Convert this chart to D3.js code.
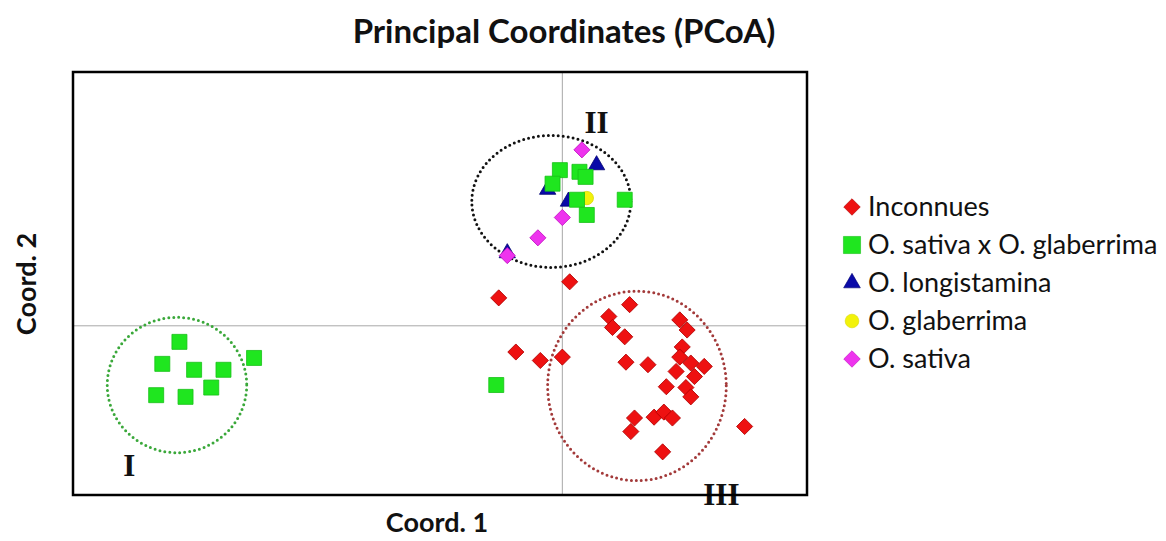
<!DOCTYPE html>
<html><head><meta charset="utf-8">
<script src="https://cdn.jsdelivr.net/npm/d3@7"></script>
<style>html,body{margin:0;padding:0;background:#fff;overflow:hidden;}svg{display:block;}</style>
</head><body>
<svg id="chart" width="1166" height="541"></svg>
<script>
// ---- Data (PCoA coordinates) ----
const seriesNames = ["Inconnues", "O. sativa x O. glaberrima", "O. longistamina", "O. glaberrima", "O. sativa"];
const inconnuesX = [0.006,-0.052,0.055,0.038,0.041,0.051,0.096,0.102,0.098,0.096,0.093,0.105,0.116,0.108,0.085,0.101,0.105,-0.038,-0.018,0.000,0.052,0.070,0.059,0.056,0.075,0.083,0.090,0.082,0.149];
const inconnuesY = [0.052,0.033,0.025,0.011,-0.002,-0.013,0.007,-0.005,-0.025,-0.037,-0.054,-0.044,-0.048,-0.060,-0.072,-0.073,-0.084,-0.031,-0.041,-0.037,-0.043,-0.046,-0.109,-0.125,-0.108,-0.102,-0.109,-0.149,-0.119];
const hybridX = [-0.313,-0.327,-0.301,-0.277,-0.252,-0.332,-0.308,-0.287,-0.054,-0.002,-0.008,0.014,0.019,0.012,0.020,0.051];
const hybridY = [-0.019,-0.045,-0.052,-0.052,-0.038,-0.082,-0.084,-0.073,-0.070,0.184,0.168,0.182,0.176,0.149,0.131,0.149];
const longistaminaX = [0.028,-0.012,0.005,-0.045];
const longistaminaY = [0.190,0.161,0.147,0.086];
const glaberrimaX = [0.020];
const glaberrimaY = [0.151];
const sativaX = [0.016,0.000,-0.020,-0.045];
const sativaY = [0.208,0.128,0.104,0.083];
// groups (ellipses) in data coordinates
const groupLabels = ["I", "II", "III"];
const groupCX = [-0.315, -0.009, 0.061];
const groupCY = [-0.070, 0.147, -0.071];
const groupRX = [0.057, 0.065, 0.073];
const groupRY = [0.080, 0.078, 0.112];
const groupLabelX = [-0.354, 0.028, 0.130];
const groupLabelY = [-0.177, 0.228, -0.212];
const titleText = "Principal Coordinates (PCoA)";
const xTitle = "Coord. 1";
const yTitle = "Coord. 2";

// ---- Chart ----
const svg = d3.select("#chart");
const pL = 73, pR = 807, pT = 72, pB = 495;
const x = d3.scaleLinear().domain([-0.4, 0.2]).range([pL, pR]);
const y = d3.scaleLinear().domain([-0.2, 0.3]).range([pB, pT]);

const colors = ["#ee1111", "#1fe61f", "#0a0aa8", "#f2f20a", "#ee33ee"];
const strokes = ["#b00000", "#18c018", "#000070", "#d8d800", "#c010c0"];
const shapes = [
  {type: d3.symbolSquare, size: 130, rot: 45},
  {type: d3.symbolSquare, size: 225, rot: 0},
  {type: d3.symbolTriangle, size: 115, rot: 0},
  {type: d3.symbolCircle, size: 140, rot: 0},
  {type: d3.symbolSquare, size: 130, rot: 45}
];

svg.append("text").attr("x", 564).attr("y", 43).attr("text-anchor", "middle")
  .style("font-family", "Lato").style("font-weight", "bold").style("font-size", "33px")
  .attr("fill", "#111").text(titleText);

// zero lines
svg.append("line").attr("x1", x(0)).attr("x2", x(0)).attr("y1", pT).attr("y2", pB)
  .attr("stroke", "#a8a8a8").attr("stroke-width", 1);
svg.append("line").attr("x1", pL).attr("x2", pR).attr("y1", y(0)).attr("y2", y(0))
  .attr("stroke", "#a8a8a8").attr("stroke-width", 1);

// ellipses
const ellColors = ["#3aa83a", "#111111", "#a33a3a"];
groupLabels.forEach((g, i) => {
  svg.append("ellipse")
    .attr("cx", x(groupCX[i])).attr("cy", y(groupCY[i]))
    .attr("rx", x(groupRX[i]) - x(0)).attr("ry", y(0) - y(groupRY[i]))
    .attr("fill", "none").attr("stroke", ellColors[i]).attr("stroke-width", 3)
    .attr("stroke-linecap", "round").attr("stroke-dasharray", "0 5");
});

// points
const series = [
  {xs: inconnuesX, ys: inconnuesY, k: 0},
  {xs: longistaminaX, ys: longistaminaY, k: 2},
  {xs: glaberrimaX, ys: glaberrimaY, k: 3},
  {xs: hybridX, ys: hybridY, k: 1},
  {xs: sativaX, ys: sativaY, k: 4}
];
series.forEach(s => {
  const sh = shapes[s.k];
  const sym = d3.symbol().type(sh.type).size(sh.size);
  svg.append("g").selectAll("path").data(s.xs.map((v, i) => [v, s.ys[i]])).join("path")
    .attr("d", sym)
    .attr("transform", d => `translate(${x(d[0])},${y(d[1])}) rotate(${sh.rot})`)
    .attr("fill", colors[s.k]).attr("stroke", strokes[s.k]).attr("stroke-width", 0.8);
});

// group labels
groupLabels.forEach((g, i) => {
  svg.append("text").attr("x", x(groupLabelX[i])).attr("y", y(groupLabelY[i]))
    .attr("text-anchor", "middle")
    .style("font-family", "Liberation Serif").style("font-weight", "bold").style("font-size", "31px")
    .attr("fill", "#111").text(g);
});

// frame
svg.append("rect").attr("x", pL).attr("y", pT).attr("width", pR - pL).attr("height", pB - pT)
  .attr("fill", "none").attr("stroke", "#000").attr("stroke-width", 2.5);

// axis titles
svg.append("text").attr("x", 437).attr("y", 532).attr("text-anchor", "middle")
  .style("font-family", "Lato").style("font-weight", "bold").style("font-size", "27px")
  .attr("fill", "#111").text(xTitle);
svg.append("text").attr("transform", "translate(36,284) rotate(-90)").attr("text-anchor", "middle")
  .style("font-family", "Lato").style("font-weight", "bold").style("font-size", "27px")
  .attr("fill", "#111").text(yTitle);

// legend
const legend = svg.append("g");
seriesNames.forEach((name, k) => {
  const ly = 207 + k * 38;
  const sh = shapes[k];
  legend.append("path").attr("d", d3.symbol().type(sh.type).size(sh.size * (k === 1 ? 1.3 : 1.05)))
    .attr("transform", `translate(852,${ly}) rotate(${sh.rot})`)
    .attr("fill", colors[k]).attr("stroke", strokes[k]).attr("stroke-width", 0.6);
  legend.append("text").attr("x", 868).attr("y", ly + 9)
    .style("font-family", "Lato").style("font-size", "27px").attr("fill", "#111").text(name);
});
</script>
</body></html>
